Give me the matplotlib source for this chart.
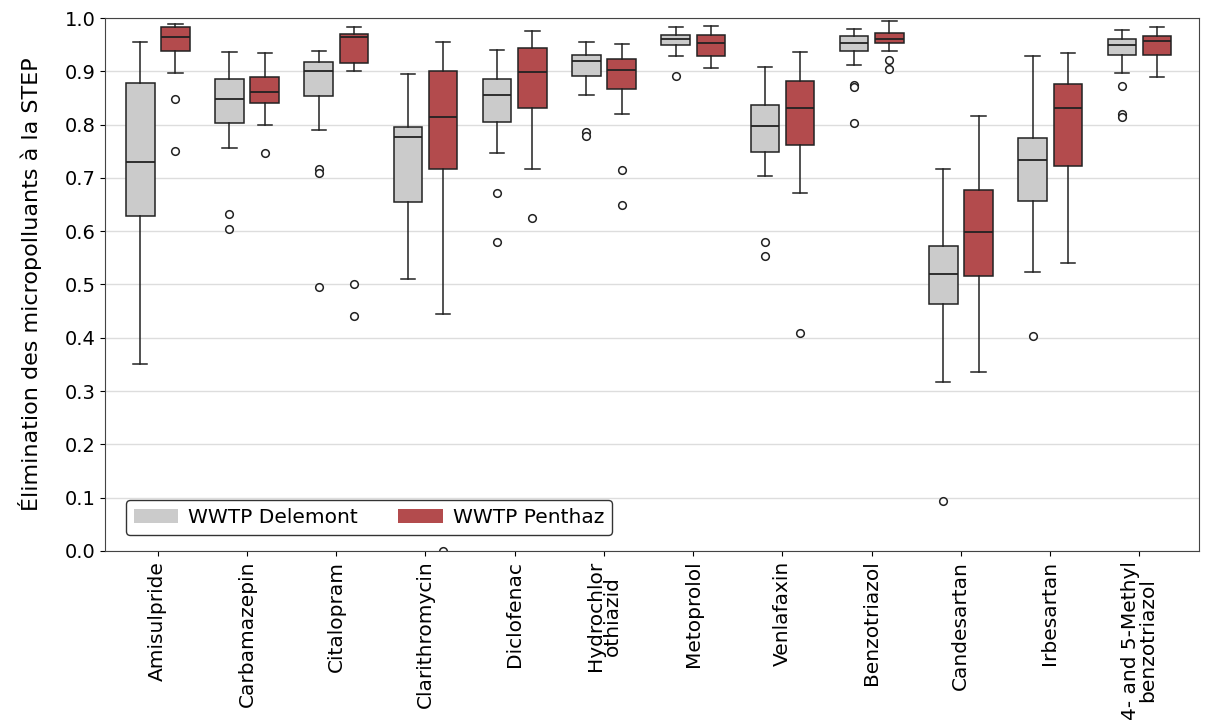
import matplotlib
matplotlib.use("Agg")
from matplotlib import pyplot as plt
from matplotlib.patches import Patch

compounds = ["Amisulpride", "Carbamazepin", "Citalopram", "Clarithromycin",
             "Diclofenac", "Hydrochlor\nothiazid", "Metoprolol", "Venlafaxin",
             "Benzotriazol", "Candesartan", "Irbesartan",
             "4- and 5-Methyl\nbenzotriazol"]

# box statistics: (whislo, q1, med, q3, whishi)
delemont_stats = [
    (0.351, 0.629, 0.730, 0.879, 0.955),
    (0.756, 0.803, 0.848, 0.886, 0.936),
    (0.789, 0.853, 0.901, 0.918, 0.938),
    (0.510, 0.654, 0.777, 0.796, 0.895),
    (0.747, 0.804, 0.855, 0.886, 0.940),
    (0.856, 0.891, 0.920, 0.931, 0.955),
    (0.929, 0.949, 0.961, 0.969, 0.983),
    (0.704, 0.749, 0.798, 0.837, 0.909),
    (0.911, 0.938, 0.953, 0.966, 0.980),
    (0.317, 0.464, 0.519, 0.573, 0.716),
    (0.523, 0.657, 0.733, 0.775, 0.929),
    (0.897, 0.931, 0.950, 0.961, 0.978),
]
delemont_fliers = [
    [], [0.633, 0.604], [0.716, 0.709, 0.495], [], [0.671, 0.580],
    [0.786, 0.778], [0.891], [0.580, 0.554], [0.875, 0.870, 0.803],
    [0.093], [0.403], [0.872, 0.820, 0.815],
]

penthaz_stats = [
    (0.897, 0.938, 0.964, 0.983, 0.989),
    (0.799, 0.841, 0.862, 0.889, 0.934),
    (0.900, 0.916, 0.965, 0.970, 0.984),
    (0.444, 0.716, 0.815, 0.900, 0.955),
    (0.717, 0.831, 0.898, 0.943, 0.976),
    (0.820, 0.867, 0.902, 0.923, 0.951),
    (0.907, 0.928, 0.953, 0.969, 0.985),
    (0.671, 0.761, 0.831, 0.881, 0.936),
    (0.938, 0.954, 0.961, 0.972, 0.994),
    (0.336, 0.516, 0.598, 0.677, 0.816),
    (0.540, 0.723, 0.831, 0.877, 0.934),
    (0.889, 0.931, 0.956, 0.966, 0.983),
]
penthaz_fliers = [
    [0.849, 0.751], [0.746], [0.500, 0.441], [0.0], [0.624],
    [0.714, 0.650], [], [0.409], [0.922, 0.905],
    [], [], [],
]

grey = "#cbcbcb"
red = "#b34b4d"


def make_stats(stats, fliers):
    out = []
    for (lo, q1, med, q3, hi), fl in zip(stats, fliers):
        out.append(dict(whislo=lo, q1=q1, med=med, q3=q3, whishi=hi, fliers=fl))
    return out


fig = plt.figure(figsize=(12.11, 7.24), dpi=100)
ax = fig.add_axes([0.0867, 0.239, 0.9034, 0.7361])

ax.yaxis.grid(True, color="#dddddd", linewidth=1.0)
ax.set_axisbelow(True)

x = list(range(len(compounds)))
common = dict(widths=0.32, patch_artist=True, manage_ticks=False,
              whiskerprops=dict(color="#222222", linewidth=1.1),
              capprops=dict(color="#222222", linewidth=1.1),
              medianprops=dict(color="#222222", linewidth=1.3),
              flierprops=dict(marker="o", markerfacecolor="white",
                              markeredgecolor="#222222", markersize=5.5,
                              markeredgewidth=1.1))

ax.bxp(make_stats(delemont_stats, delemont_fliers),
       positions=[i - 0.195 for i in x],
       boxprops=dict(facecolor=grey, edgecolor="#222222", linewidth=1.1),
       **common)
ax.bxp(make_stats(penthaz_stats, penthaz_fliers),
       positions=[i + 0.2 for i in x],
       boxprops=dict(facecolor=red, edgecolor="#222222", linewidth=1.1),
       **common)

ax.set_xlim(-0.59, 11.67)
ax.set_ylim(0.0, 1.0)
ax.set_yticks([i / 10 for i in range(11)])
ax.tick_params(axis="y", labelsize=14)
ax.set_xticks(x)
ax.set_xticklabels(compounds, rotation=90, fontsize=14.5, linespacing=0.85)
ax.set_ylabel("Élimination des micropolluants à la STEP", fontsize=16,
              labelpad=16)

for s in ax.spines.values():
    s.set_color("#444444")

handles = [Patch(facecolor=grey, label="WWTP Delemont"),
           Patch(facecolor=red, label="WWTP Penthaz")]
ax.legend(handles=handles, loc="lower left", ncol=2, fontsize=14.5,
          bbox_to_anchor=(0.019, 0.03), borderaxespad=0,
          handlelength=2.2, handleheight=0.75, handletextpad=0.5,
          columnspacing=2.0, edgecolor="#333333", framealpha=1, fancybox=True)

plt.savefig("out.png", dpi=100)
